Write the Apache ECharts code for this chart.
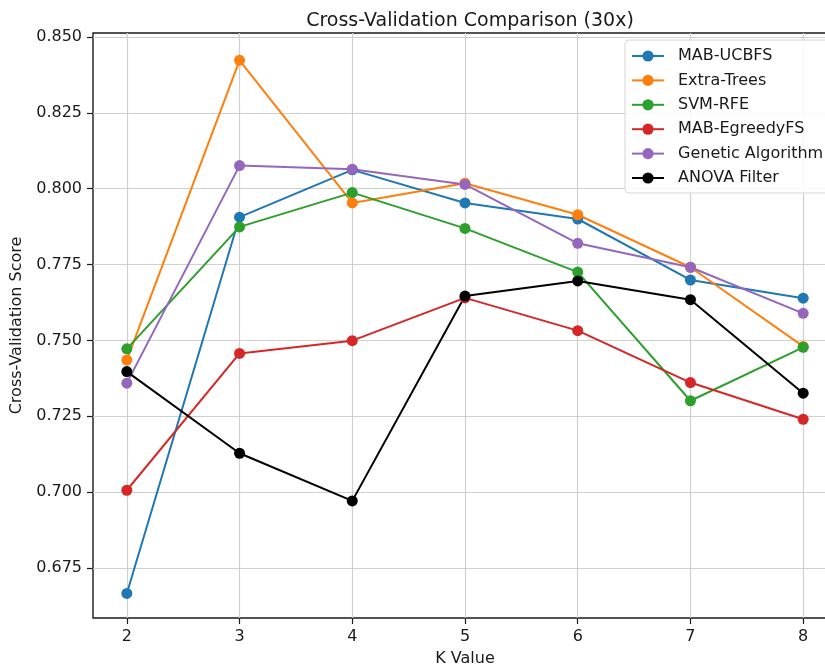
<!DOCTYPE html>
<html>
<head>
<meta charset="utf-8">
<script src="https://cdn.jsdelivr.net/npm/echarts@6/dist/echarts.min.js"></script>
<style>
  html, body { margin: 0; padding: 0; background: #fff; }
  #chart { width: 825px; height: 670px; }
</style>
</head>
<body>
<div id="chart"></div>
<script>
// K values on the x axis
const kValues = [2, 3, 4, 5, 6, 7, 8];

// Mean cross-validation score per method (30 repetitions)
const mabUcbfs      = [0.6666, 0.7906, 0.8062, 0.7953, 0.7900, 0.7699, 0.7639];
const extraTrees    = [0.7435, 0.8423, 0.7953, 0.8018, 0.7914, 0.7741, 0.7480];
const svmRfe        = [0.7472, 0.7874, 0.7987, 0.7869, 0.7725, 0.7301, 0.7477];
const mabEgreedyFs  = [0.7006, 0.7457, 0.7499, 0.7640, 0.7532, 0.7361, 0.7240];
const geneticAlgo   = [0.7359, 0.8076, 0.8064, 0.8014, 0.7820, 0.7741, 0.7589];
const anovaFilter   = [0.7397, 0.7128, 0.6971, 0.7646, 0.7696, 0.7634, 0.7326];

const seriesNames = ['MAB-UCBFS', 'Extra-Trees', 'SVM-RFE', 'MAB-EgreedyFS', 'Genetic Algorithm', 'ANOVA Filter'];
const seriesValues = [mabUcbfs, extraTrees, svmRfe, mabEgreedyFs, geneticAlgo, anovaFilter];
const seriesColors = ['#1f77b4', '#ff7f0e', '#2ca02c', '#d62728', '#9467bd', '#000000'];

// Tick positions
const xTicks = [2, 3, 4, 5, 6, 7, 8];
const yTicks = [0.675, 0.700, 0.725, 0.750, 0.775, 0.800, 0.825, 0.850];

const FONT = 'DejaVu Sans';
const chart = echarts.init(document.getElementById('chart'), null, { renderer: 'canvas' });

const series = seriesNames.map((name, i) => ({
  name: name,
  type: 'line',
  data: kValues.map((k, j) => [k, seriesValues[i][j]]),
  symbol: 'circle',
  symbolSize: 11,
  showSymbol: true,
  lineStyle: { width: 2, color: seriesColors[i] },
  itemStyle: { color: seriesColors[i] },
  emphasis: { disabled: true },
  animation: false
}));

chart.setOption({
  backgroundColor: '#ffffff',
  animation: false,
  title: {
    text: 'Cross-Validation Comparison (30x)',
    left: 465,
    textAlign: 'center',
    top: 7,
    textStyle: { fontFamily: FONT, fontSize: 19, fontWeight: 'normal', color: '#1a1a1a' }
  },
  legend: {
    orient: 'vertical',
    left: 625,
    top: 40,
    padding: [8, 30, 7, 6],
    itemGap: 8.4,
    itemWidth: 32,
    itemHeight: 14,
    backgroundColor: 'rgba(255,255,255,0.85)',
    borderColor: '#d6d6d6',
    borderWidth: 1,
    borderRadius: 4,
    data: seriesNames,
    textStyle: { fontFamily: FONT, fontSize: 16, color: '#1a1a1a', padding: [0, 0, 0, 9] }
  },
  grid: {
    left: 93,
    top: 33,
    width: 744,
    height: 585,
    outerBoundsMode: 'none',
    containLabel: false,
    show: true,
    borderColor: '#1a1a1a',
    borderWidth: 1.4,
    backgroundColor: 'transparent'
  },
  xAxis: {
    type: 'value',
    min: 1.7,
    max: 8.3,
    name: 'K Value',
    nameLocation: 'middle',
    nameGap: 33,
    nameTextStyle: { fontFamily: FONT, fontSize: 16, color: '#1a1a1a' },
    axisLine: { show: false },
    axisTick: { show: true, customValues: xTicks, length: 6, inside: false, lineStyle: { color: '#1a1a1a', width: 1.2 } },
    axisLabel: { customValues: xTicks, margin: 11, fontFamily: FONT, fontSize: 16, color: '#1a1a1a', formatter: v => String(v) },
    splitLine: { show: true, lineStyle: { color: '#d0d0d0', width: 1.2 } }
  },
  yAxis: {
    type: 'value',
    min: 0.6585,
    max: 0.8513,
    name: 'Cross-Validation Score',
    nameLocation: 'middle',
    nameGap: 60,
    nameTextStyle: { fontFamily: FONT, fontSize: 16, color: '#1a1a1a' },
    axisLine: { show: false },
    axisTick: { show: true, customValues: yTicks, length: 6, inside: false, lineStyle: { color: '#1a1a1a', width: 1.2 } },
    axisLabel: { customValues: yTicks, margin: 11, fontFamily: FONT, fontSize: 16, color: '#1a1a1a', formatter: v => v.toFixed(3) },
    splitLine: { show: true, lineStyle: { color: '#d0d0d0', width: 1.2 } }
  },
  series: series
});
</script>
</body>
</html>
